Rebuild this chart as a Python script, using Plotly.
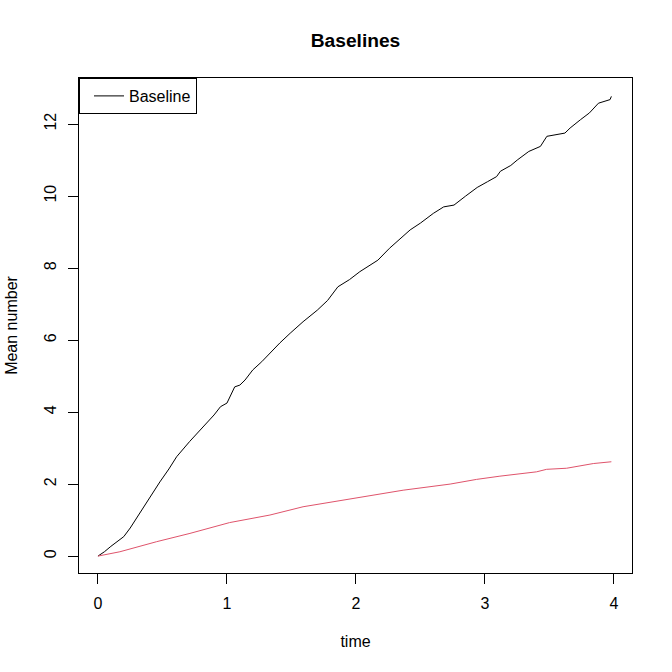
import plotly.graph_objects as go

# Baseline (black) cumulative mean curve
base_t = [0, 0.05, 0.10, 0.13, 0.20, 0.25, 0.33, 0.40, 0.48, 0.55, 0.61, 0.71, 0.78, 0.84,
          0.90, 0.95, 1.00, 1.06, 1.10, 1.14, 1.20, 1.27, 1.33, 1.41, 1.49, 1.59, 1.70, 1.78,
          1.86, 1.95, 2.03, 2.11, 2.17, 2.26, 2.34, 2.42, 2.50, 2.60, 2.68, 2.76, 2.85, 2.94,
          3.02, 3.09, 3.12, 3.20, 3.25, 3.34, 3.43, 3.48, 3.62, 3.66, 3.74, 3.81, 3.88, 3.97, 3.98]
base_v = [0, 0.12, 0.27, 0.35, 0.54, 0.78, 1.23, 1.62, 2.06, 2.42, 2.76, 3.18, 3.45, 3.69,
          3.92, 4.15, 4.25, 4.70, 4.75, 4.89, 5.17, 5.40, 5.63, 5.92, 6.19, 6.51, 6.83, 7.10,
          7.48, 7.68, 7.90, 8.08, 8.22, 8.55, 8.80, 9.06, 9.25, 9.52, 9.70, 9.75, 10.0, 10.24,
          10.40, 10.54, 10.69, 10.85, 11.0, 11.24, 11.38, 11.66, 11.75, 11.89, 12.12, 12.31, 12.58, 12.68, 12.77]

# Second (red) curve
red_t = [0, 0.17, 0.455, 0.713, 1.02, 1.333, 1.59, 1.85, 2.11, 2.366, 2.73, 2.935, 3.116,
         3.40, 3.478, 3.633, 3.84, 3.98]
red_v = [0, 0.12, 0.40, 0.63, 0.93, 1.14, 1.37, 1.53, 1.67, 1.83, 2.0, 2.13, 2.22,
         2.34, 2.41, 2.44, 2.57, 2.62]

x_ticks = [0, 1, 2, 3, 4]
y_ticks = [0, 2, 4, 6, 8, 10, 12]

FONT = "Liberation Sans, Arial, sans-serif"

fig = go.Figure()
fig.add_trace(go.Scatter(x=base_t, y=base_v, mode="lines", name="Baseline",
                         line=dict(color="black", width=1)))
fig.add_trace(go.Scatter(x=red_t, y=red_v, mode="lines", name="red", showlegend=False,
                         line=dict(color="#DF536B", width=1)))

axis_common = dict(showgrid=False, zeroline=False, showline=True, linecolor="black",
                   linewidth=1, mirror=True, ticks="outside", ticklen=10, tickcolor="black",
                   automargin=False,
                   tickfont=dict(family=FONT, size=16, color="black"))

fig.update_layout(
    width=672, height=672,
    margin=dict(l=79, r=40, t=78, b=99),
    paper_bgcolor="white", plot_bgcolor="white",
    font=dict(family=FONT, size=16, color="black"),
    title=dict(text="<b>Baselines</b>", x=0.5, xref="paper", xanchor="center",
               y=1 - 40 / 672, yanchor="middle", font=dict(family=FONT, size=19.2, color="black")),
    xaxis=dict(range=[-0.147, 4.14], tickvals=x_ticks, ticktext=[str(v) for v in x_ticks],
               ticklabelstandoff=6,
               title=dict(text="time", standoff=24, font=dict(family=FONT, size=16)),
               **axis_common),
    yaxis=dict(range=[-0.47, 13.28], tickvals=y_ticks, ticktext=[str(v) for v in y_ticks],
               tickangle=-90, ticklabelstandoff=6,
               title=dict(text="Mean number", standoff=19, font=dict(family=FONT, size=16)),
               **axis_common),
    legend=dict(x=0, y=1, xanchor="left", yanchor="top", bordercolor="black", borderwidth=1,
                bgcolor="white", indentation=9, itemwidth=30, entrywidth=89,
                font=dict(family=FONT, size=16, color="black")),
)

fig.write_html("out.html")
